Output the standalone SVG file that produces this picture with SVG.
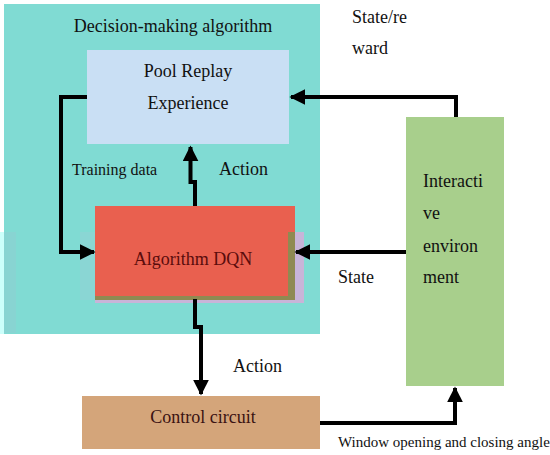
<svg xmlns="http://www.w3.org/2000/svg" width="550" height="455" viewBox="0 0 550 455">
<defs>
<style>
text{font-family:"Liberation Serif","Times New Roman",serif;fill:#111}
.c{text-anchor:middle}
.ln{fill:none;stroke:#000;stroke-width:4}
</style>
<marker id="ah" viewBox="0 0 10 10" refX="9" refY="5" markerWidth="4" markerHeight="4" markerUnits="strokeWidth" orient="auto">
<path d="M0,0 L10,5 L0,10 z" fill="#000"/>
</marker>
</defs>
<rect width="550" height="455" fill="#fff"/>
<g id="decision-making">
<rect x="0" y="232" width="6" height="102" fill="#ccfffb"/>
<rect x="4" y="4" width="316" height="330" fill="#80dbd3"/>
<rect x="4" y="232" width="12" height="101" fill="#88d4d2"/>
<rect x="80" y="232" width="15" height="68" fill="#8ad6d4"/>
<text x="173" y="32" class="c" font-size="18">Decision-making algorithm</text>
</g>
<g id="pool">
<rect x="87" y="50" width="202" height="94" fill="#c9dff4"/>
<text x="188" y="77" class="c" font-size="18">Pool Replay</text>
<text x="188" y="109" class="c" font-size="18">Experience</text>
</g>
<g id="dqn">
<rect x="95" y="232" width="209" height="71" fill="#c8b4d8"/>
<rect x="95" y="206" width="200" height="93" fill="#e9604f"/>
<rect x="288" y="232" width="7" height="68" fill="#8f8a52"/>
<rect x="95" y="296" width="200" height="4" fill="#8f8a52"/>
<text x="193" y="265" class="c" font-size="18" style="fill:#5a0c0c">Algorithm DQN</text>
</g>
<g id="environment">
<rect x="406" y="117" width="98" height="269" fill="#a8cf8c"/>
<text x="423" y="187" font-size="18">Interacti</text>
<text x="423" y="219" font-size="18">ve</text>
<text x="423" y="252" font-size="18">environ</text>
<text x="423" y="283" font-size="18">ment</text>
</g>
<g id="control">
<rect x="82" y="396" width="238" height="53" fill="#d4a57a"/>
<text x="203" y="423" class="c" font-size="18" style="fill:#3a1212">Control circuit</text>
</g>
<g id="connectors">
<path class="ln" d="M87,97 H61 V252 H94" marker-end="url(#ah)"/>
<path class="ln" d="M195,206 V182 H190.5 V147" marker-end="url(#ah)"/>
<path class="ln" d="M456,117 V97 H291" marker-end="url(#ah)"/>
<path class="ln" d="M406,252 H296" marker-end="url(#ah)"/>
<path class="ln" d="M195,299 V327 H201 V394" marker-end="url(#ah)"/>
<path class="ln" d="M320,423 H455 V388" marker-end="url(#ah)"/>
</g>
<g id="labels">
<text x="72" y="175" font-size="16">Training data</text>
<text x="219" y="175" font-size="18">Action</text>
<text x="352" y="23" font-size="18">State/re</text>
<text x="352" y="54" font-size="18">ward</text>
<text x="338" y="283" font-size="18">State</text>
<text x="233" y="372" font-size="18">Action</text>
<text x="338" y="447" font-size="15">Window opening and closing angle</text>
</g>
</svg>
